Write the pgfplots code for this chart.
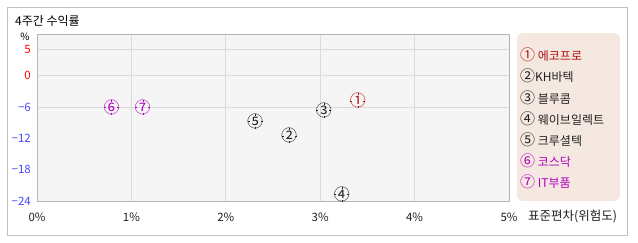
\documentclass[border=0pt]{standalone}
\usepackage{fontspec}
\setmainfont{Noto Sans CJK KR}
\usepackage{pgfplots}
\pgfplotsset{compat=1.18}
\definecolor{frm}{HTML}{C0C0C0}
\definecolor{axc}{HTML}{B4B4B4}
\definecolor{gridc}{HTML}{DADADA}
\definecolor{bgc}{HTML}{F5F5F5}
\definecolor{legbg}{HTML}{F5E8E0}
\definecolor{cred}{HTML}{B01010}
\definecolor{cmag}{HTML}{B000C0}
\definecolor{cblk}{HTML}{202020}
\definecolor{tred}{HTML}{FF0000}
\definecolor{tblue}{HTML}{4848FF}
\pgfdeclareplotmark{tgt}{%
  \pgfpathmoveto{\pgfpoint{0pt}{5.5pt}}\pgfpathlineto{\pgfpoint{0pt}{7.5pt}}%
  \pgfpathmoveto{\pgfpoint{0pt}{-5.5pt}}\pgfpathlineto{\pgfpoint{0pt}{-7.5pt}}%
  \pgfpathmoveto{\pgfpoint{5.5pt}{0pt}}\pgfpathlineto{\pgfpoint{7.5pt}{0pt}}%
  \pgfpathmoveto{\pgfpoint{-5.5pt}{0pt}}\pgfpathlineto{\pgfpoint{-7.5pt}{0pt}}%
  \pgfusepathqstroke}
\newcommand{\fs}[1]{\fontsize{#1}{#1}\selectfont}
\newcommand{\cd}[1]{{\fs{15}#1}}
\begin{document}
\begin{tikzpicture}[x=1pt,y=1pt]
\useasboundingbox (0,0) rectangle (638,242);
\draw[frm] (7,7) rectangle (627,235);
\node[anchor=west,inner sep=0,font=\fs{12}] at (15,221) {4주간 수익률};
\node[inner sep=0,font=\fs{10}] at (25,205) {\%};
\begin{axis}[at={(37pt,41pt)}, anchor=south west, scale only axis,
  width=472pt, height=167pt,
  xmin=0, xmax=5, ymin=-24, ymax=8,
  axis background/.style={fill=bgc},
  axis line style={axc},
  xtick={0,1,2,3,4,5},
  xticklabels={0\%,1\%,2\%,3\%,4\%,5\%},
  ytick={5,0,-6},
  yticklabels={\textcolor{tred}{5},\textcolor{tred}{0},\textcolor{tblue}{−6}},
  extra y ticks={-12,-18,-24},
  extra y tick labels={\textcolor{tblue}{−12},\textcolor{tblue}{−18},\textcolor{tblue}{−24}},
  extra y tick style={grid=none},
  xmajorgrids, ymajorgrids,
  grid style={gridc, line width=0.8pt},
  major tick length=0pt,
  tick label style={font=\fs{11.5}, inner sep=0pt},
  yticklabel style={anchor=east, xshift=-6pt},
  xticklabel style={anchor=center, yshift=-16pt, text=cblk},
  clip=false,
  every node near coord/.style={anchor=center, inner sep=0pt, font=\fs{16}},
]
\addplot[only marks, mark=tgt, mark options={cred}, nodes near coords={①}, every node near coord/.append style={text=cred}] coordinates {(3.40,-4.8)};
\addplot[only marks, mark=tgt, mark options={cblk}, nodes near coords={②}, every node near coord/.append style={text=cblk}] coordinates {(2.67,-11.5)};
\addplot[only marks, mark=tgt, mark options={cblk}, nodes near coords={③}, every node near coord/.append style={text=cblk}] coordinates {(3.04,-6.6)};
\addplot[only marks, mark=tgt, mark options={cblk}, nodes near coords={④}, every node near coord/.append style={text=cblk}] coordinates {(3.23,-22.7)};
\addplot[only marks, mark=tgt, mark options={cblk}, nodes near coords={⑤}, every node near coord/.append style={text=cblk}] coordinates {(2.31,-8.7)};
\addplot[only marks, mark=tgt, mark options={cmag}, nodes near coords={⑥}, every node near coord/.append style={text=cmag}] coordinates {(0.79,-6.1)};
\addplot[only marks, mark=tgt, mark options={cmag}, nodes near coords={⑦}, every node near coord/.append style={text=cmag}] coordinates {(1.12,-6.0)};
\end{axis}
\node[anchor=west,inner sep=0,font=\fs{12.5},text=cblk] at (528,25) {표준편차(위험도)};
\fill[legbg, rounded corners=6pt] (517,41) rectangle (620,209);
\begin{scope}[every node/.style={anchor=west,inner sep=0,font=\fs{12}}]
\node[text=cred] at (520,187) {\cd{①} 에코프로};
\node[text=cblk] at (520,166) {\cd{②}KH바텍};
\node[text=cblk] at (520,144) {\cd{③} 블루콤};
\node[text=cblk] at (520,123) {\cd{④} 웨이브일렉트};
\node[text=cblk] at (520,102) {\cd{⑤} 크루셜텍};
\node[text=cmag] at (520,81) {\cd{⑥} 코스닥};
\node[text=cmag] at (520,60) {\cd{⑦} IT부품};
\end{scope}
\end{tikzpicture}
\end{document}
